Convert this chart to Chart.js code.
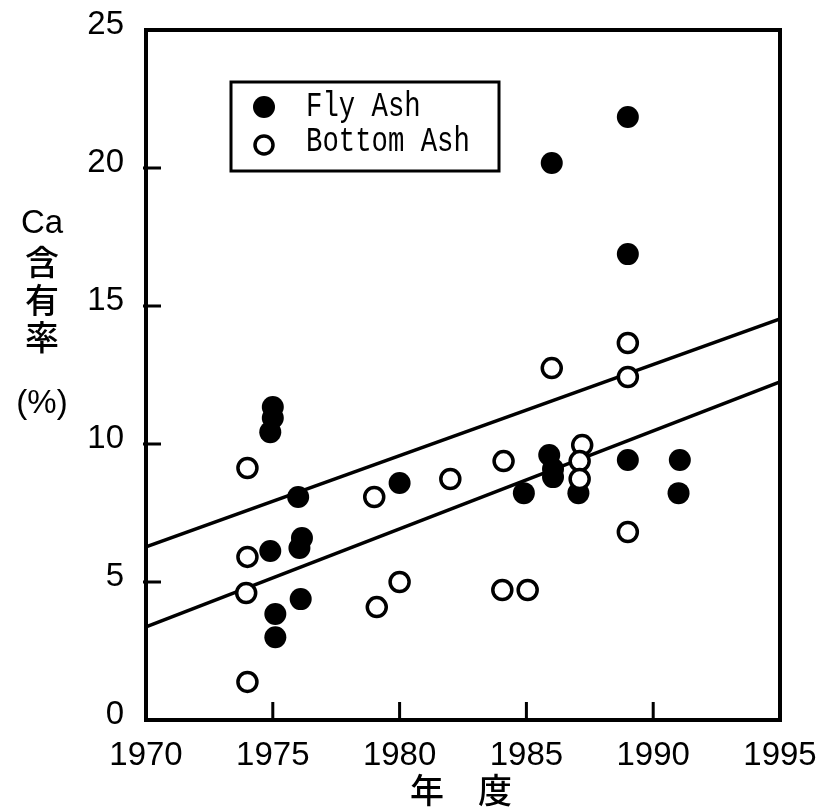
<!DOCTYPE html>
<html>
<head>
<meta charset="utf-8">
<script src="https://cdn.jsdelivr.net/npm/chart.js@4.4.1/dist/chart.umd.min.js"></script>
<style>
  html, body { margin: 0; padding: 0; background: #fff; }
  #wrap { width: 816px; height: 808px; }
</style>
</head>
<body>
<div id="wrap"><canvas id="caChart" width="816" height="808"></canvas></div>
<script>
// Ca content of incinerator ash by fiscal year
const flyYear = [1975.0, 1975.0, 1974.9, 1974.9, 1975.1, 1975.1, 1976.0, 1976.15, 1976.05, 1976.1,
                 1980.0, 1984.9, 1985.9, 1986.05, 1986.05, 1986.0, 1987.05, 1989.0, 1989.0, 1989.0, 1991.05, 1991.0];
const flyCa   = [11.34, 10.94, 10.43, 6.12, 3.84, 3.0, 8.08, 6.59, 6.23, 4.38,
                 8.59, 8.22, 9.6, 9.09, 8.8, 20.18, 8.22, 21.85, 16.88, 9.42, 9.42, 8.22];

const bottomYear = [1974.0, 1974.0, 1973.95, 1974.0, 1979.0, 1979.1, 1980.0, 1982.0, 1984.1, 1984.05,
                    1985.05, 1986.0, 1987.2, 1987.1, 1987.1, 1989.0, 1989.0, 1989.0];
const bottomCa   = [9.13, 5.91, 4.60, 1.38, 8.08, 4.09, 5.0, 8.73, 9.38, 4.71,
                    4.71, 12.75, 9.96, 9.38, 8.73, 13.66, 12.43, 6.81];

const lineYear = [1970, 1995];
const upperCa  = [6.27, 14.53];
const lowerCa  = [3.37, 12.25];

const xTicks = [1970, 1975, 1980, 1985, 1990, 1995];
const yTicks = [0, 5, 10, 15, 20, 25];

const seriesNames = ['Fly Ash', 'Bottom Ash'];
const yTitle = ['Ca', '含', '有', '率', '(%)'];
const xTitle = '年　度';

const tickFont = "'Liberation Sans', sans-serif";
const cjkFont = "'Noto Sans CJK JP', sans-serif";

function pts(xs, ys) {
    return xs.map(function(x, i) { return { x: x, y: ys[i] }; });
}

// frame, inward ticks, legend box and axis titles
const decorations = {
    id: 'decorations',
    afterDatasetsDraw(chart) {
        const ctx = chart.ctx;
        const a = chart.chartArea;
        const xs = chart.scales.x, ys = chart.scales.y;
        ctx.save();
        ctx.strokeStyle = '#000';
        ctx.lineWidth = 4;
        ctx.strokeRect(a.left, a.top, a.right - a.left, a.bottom - a.top);

        ctx.lineWidth = 3;
        ctx.beginPath();
        xTicks.slice(1, -1).forEach(function(v) {
            const px = xs.getPixelForValue(v);
            ctx.moveTo(px, a.bottom);
            ctx.lineTo(px, a.bottom - 18);
        });
        yTicks.slice(1, -1).forEach(function(v) {
            const py = ys.getPixelForValue(v);
            ctx.moveTo(a.left - 3, py);
            ctx.lineTo(a.left + 15, py);
        });
        ctx.stroke();

        // legend
        const lx = a.left + 85, ly = a.top + 52;
        ctx.fillStyle = '#fff';
        ctx.fillRect(lx, ly, 268, 89);
        ctx.lineWidth = 3;
        ctx.strokeRect(lx, ly, 268, 89);
        ctx.fillStyle = '#000';
        ctx.beginPath();
        ctx.arc(lx + 33, ly + 25, 11, 0, Math.PI * 2);
        ctx.fill();
        ctx.beginPath();
        ctx.lineWidth = 3.5;
        ctx.arc(lx + 33, ly + 63, 9, 0, Math.PI * 2);
        ctx.stroke();
        ctx.font = "35px 'Liberation Mono', monospace";
        ctx.textBaseline = 'alphabetic';
        ctx.textAlign = 'left';
        [[seriesNames[0], ly + 34], [seriesNames[1], ly + 69]].forEach(function(t) {
            ctx.save();
            ctx.translate(lx + 75, t[1]);
            ctx.scale(0.78, 1);
            ctx.fillText(t[0], 0, 0);
            ctx.restore();
        });

        // y title, stacked
        ctx.textAlign = 'center';
        ctx.textBaseline = 'middle';
        const yPos = [224, 262, 300, 337, 404];
        yTitle.forEach(function(t, i) {
            ctx.font = (i === 0 || i === 4) ? '33px ' + tickFont : '500 34px ' + cjkFont;
            ctx.fillText(t, 42, yPos[i]);
        });
        ctx.font = '500 34px ' + cjkFont;
        ctx.fillText(xTitle, 461, 790);
        ctx.restore();
    }
};

new Chart(document.getElementById('caChart'), {
    type: 'scatter',
    data: {
        datasets: [{
            label: seriesNames[0],
            data: pts(flyYear, flyCa),
            backgroundColor: '#000',
            borderColor: '#000',
            pointRadius: 11,
            borderWidth: 0,
            order: 2
        }, {
            label: seriesNames[1],
            data: pts(bottomYear, bottomCa),
            backgroundColor: '#fff',
            borderColor: '#000',
            pointRadius: 9.5,
            borderWidth: 3.5,
            order: 1
        }, {
            label: 'upper',
            data: pts(lineYear, upperCa),
            showLine: true,
            borderColor: '#000',
            borderWidth: 3.5,
            pointRadius: 0,
            order: 3
        }, {
            label: 'lower',
            data: pts(lineYear, lowerCa),
            showLine: true,
            borderColor: '#000',
            borderWidth: 3.5,
            pointRadius: 0,
            order: 3
        }]
    },
    options: {
        responsive: false,
        animation: false,
        layout: { padding: { top: 30, right: 36, left: 0, bottom: 0 } },
        plugins: {
            legend: { display: false },
            tooltip: { enabled: false }
        },
        scales: {
            x: {
                type: 'linear',
                min: 1970,
                max: 1995,
                afterBuildTicks: function(scale) {
                    scale.ticks = xTicks.map(function(v) { return { value: v }; });
                },
                afterFit: function(scale) {
                    scale.height = 88;
                    scale.paddingLeft = 0;
                    scale.paddingRight = 0;
                },
                grid: { display: false },
                border: { display: false },
                ticks: {
                    color: '#000',
                    padding: 8,
                    maxRotation: 0,
                    font: { family: tickFont, size: 33 },
                    callback: function(v) { return String(v); }
                }
            },
            y: {
                min: 0,
                max: 25,
                afterBuildTicks: function(scale) {
                    scale.ticks = yTicks.map(function(v) { return { value: v }; });
                },
                afterFit: function(scale) {
                    scale.width = 146;
                    scale.paddingTop = 0;
                    scale.paddingBottom = 0;
                },
                grid: { display: false },
                border: { display: false },
                ticks: {
                    color: '#000',
                    padding: 14,
                    labelOffset: -5,
                    font: { family: tickFont, size: 33 }
                }
            }
        }
    },
    plugins: [decorations]
});
</script>
</body>
</html>
